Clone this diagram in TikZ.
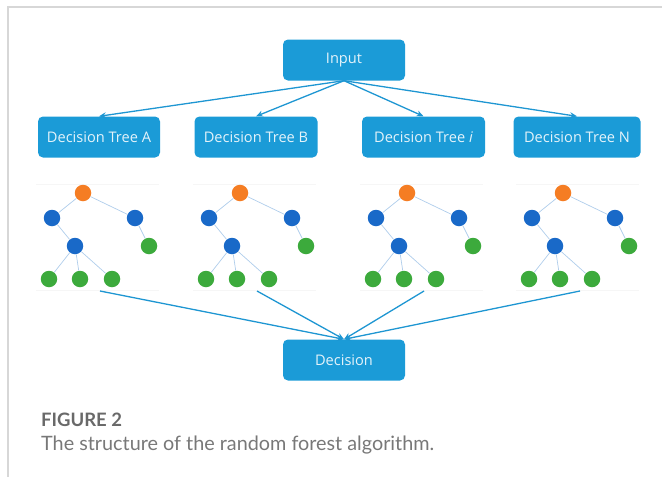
\documentclass[tikz,border=0pt]{standalone}
\usepackage{fontspec}
\setmainfont{Open Sans}
\newfontfamily\capfont{Lato}
\usetikzlibrary{arrows.meta}
\definecolor{boxblue}{RGB}{27,155,215}
\definecolor{arrowblue}{RGB}{30,150,210}
\definecolor{nodeorange}{RGB}{245,125,35}
\definecolor{nodeblue}{RGB}{25,105,200}
\definecolor{nodegreen}{RGB}{60,170,60}
\definecolor{edgeblue}{RGB}{175,205,235}
\definecolor{framegray}{RGB}{215,215,215}
\definecolor{figgray}{RGB}{105,105,105}
\definecolor{captext}{RGB}{120,120,120}
\tikzset{
  box/.style={rectangle, rounded corners=5pt, fill=boxblue, text=white!88!boxblue,
    minimum height=41pt, inner sep=0pt, font=\fontsize{14.6}{17}\selectfont},
  conn/.style={draw=arrowblue, line width=1.3pt, -{Stealth[length=7pt,width=6pt]}},
  tnode/.style={circle, minimum size=16.5pt, inner sep=0pt},
  orn/.style={tnode, fill=nodeorange},
  bln/.style={tnode, fill=nodeblue},
  grn/.style={tnode, fill=nodegreen},
  tedge/.style={draw=edgeblue, line width=0.7pt}
}
\begin{document}
\begin{tikzpicture}[x=1pt,y=-1pt]
\useasboundingbox (0,0) rectangle (662,477);
% frame
\draw[framegray, line width=1.5pt] (662,7) -- (8,7) -- (8,477);
% boxes
\node[box, minimum width=122pt] (input) at (344,60) {Input};
\node[box, minimum width=122pt] (ta) at (99,137) {Decision Tree A};
\node[box, minimum width=123pt] (tb) at (256,137) {Decision Tree B};
\node[box, minimum width=123pt] (ti) at (423.5,137) {Decision Tree \textit{i}};
\node[box, minimum width=127pt] (tn) at (577,137) {Decision Tree N};
\node[box, minimum width=122pt] (dec) at (344,360) {Decision};
% trees
\foreach \dx/\n in {0/a,157/b,324/i,480/n}{
  \begin{scope}[xshift=\dx pt]
    \draw[gray!7, line width=0.8pt] (36,184) -- (159,184) (36,290) -- (159,290);
    \node[orn] (r\n) at (83,193) {};
    \node[bln] (l\n) at (52,218) {};
    \node[bln] (q\n) at (135,218) {};
    \node[bln] (m\n) at (75,246) {};
    \node[grn] (g\n) at (149,246) {};
    \node[grn] (x\n) at (49,279) {};
    \node[grn] (y\n) at (80,279) {};
    \node[grn] (z\n) at (112,279) {};
    \coordinate (s\n) at (100,291);
  \end{scope}
  \draw[tedge] (r\n) -- (l\n) (r\n) -- (q\n) (l\n) -- (m\n) (q\n) -- (g\n)
    (m\n) -- (x\n) (m\n) -- (y\n) (m\n) -- (z\n);
}
% connectors
\foreach \t in {ta,tb,ti,tn}{
  \draw[conn] (input.south) -- (\t.north);
}
\foreach \n in {a,b,i,n}{
  \draw[conn] (s\n) -- (dec.north);
}
% caption
\node[anchor=base west, inner sep=0pt, text=figgray, font=\capfont\bfseries\fontsize{18.5}{22}\selectfont] (fig) at (41,426) {FIGURE 2};
\node[anchor=base west, inner sep=0pt, text=captext, font=\capfont\fontsize{19.8}{23}\selectfont] (cap) at (41,450) {The structure of the random forest algorithm.};
\end{tikzpicture}
\end{document}
